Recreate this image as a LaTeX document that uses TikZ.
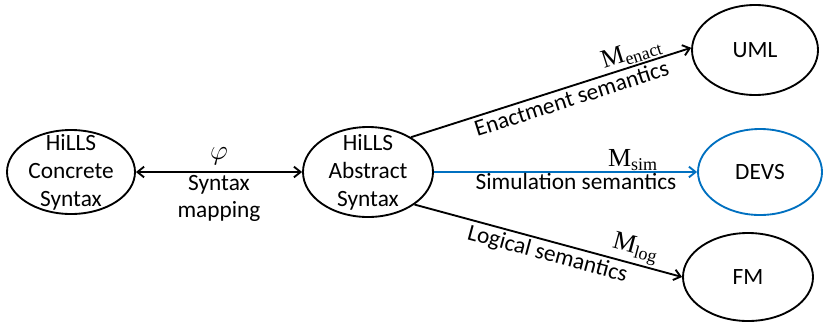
\documentclass[tikz,border=0pt]{standalone}
\usepackage{fontspec}
\setmainfont{Carlito}
\newfontfamily\mfont{Liberation Serif}
\usetikzlibrary{shapes.geometric,arrows.meta}
\definecolor{devsblue}{RGB}{0,112,192}
\newcommand{\msub}[1]{{\mfont M\raisebox{-0.35ex}{\fontsize{13.5}{14}\selectfont #1}}}

\begin{document}
\begin{tikzpicture}[x=0.75pt,y=-0.75pt,>={Straight Barb[length=5pt,width=8pt]},line width=1.4pt,
    lang/.style={draw,ellipse,inner xsep=0pt,inner ysep=-8pt,align=center,font=\fontsize{17.5}{21}\selectfont},
    sem/.style={font=\fontsize{17.5}{20}\selectfont,inner sep=2pt,align=center},
    mlabel/.style={font=\fontsize{19.5}{20}\selectfont,inner sep=1pt}]
    \useasboundingbox (0,0) rectangle (823,326);
    \node[lang,minimum width=96pt,minimum height=63pt] (concrete) at (71,172) {HiLLS\\Concrete\\Syntax};
    \node[lang,minimum width=97.5pt,minimum height=67.5pt] (abstract) at (368,172) {HiLLS\\Abstract\\Syntax};
    \node[lang,minimum width=94.5pt,minimum height=67.5pt] (uml) at (755,50) {UML};
    \node[lang,draw=devsblue,minimum width=93pt,minimum height=64.5pt] (devs) at (760,172) {DEVS};
    \node[lang,minimum width=97.5pt,minimum height=66pt] (fm) at (748,277) {FM};
    \draw[<->] (concrete) -- node[above,mlabel,inner sep=5pt] {$\varphi$} node[below,sem] {Syntax\\mapping} (abstract);
    \draw[->] (abstract.39) -- node[pos=0.56,below,sloped,sem] {Enactment semantics}
        node[pos=0.8,above,sloped,mlabel] {\msub{enact}} (uml.178);
    \draw[->,devsblue] (abstract.east) -- node[pos=0.54,below,sem,text=black,inner sep=0pt] {Simulation semantics}
        node[pos=0.755,above,mlabel,text=black,inner sep=0pt] {\msub{sim}} (devs.west);
    \draw[->] (abstract.-35) -- node[pos=0.51,below,sloped,sem] {Logical semantics}
        node[pos=0.81,above,sloped,mlabel] {\msub{log}} (fm.180);
\end{tikzpicture}
\end{document}
